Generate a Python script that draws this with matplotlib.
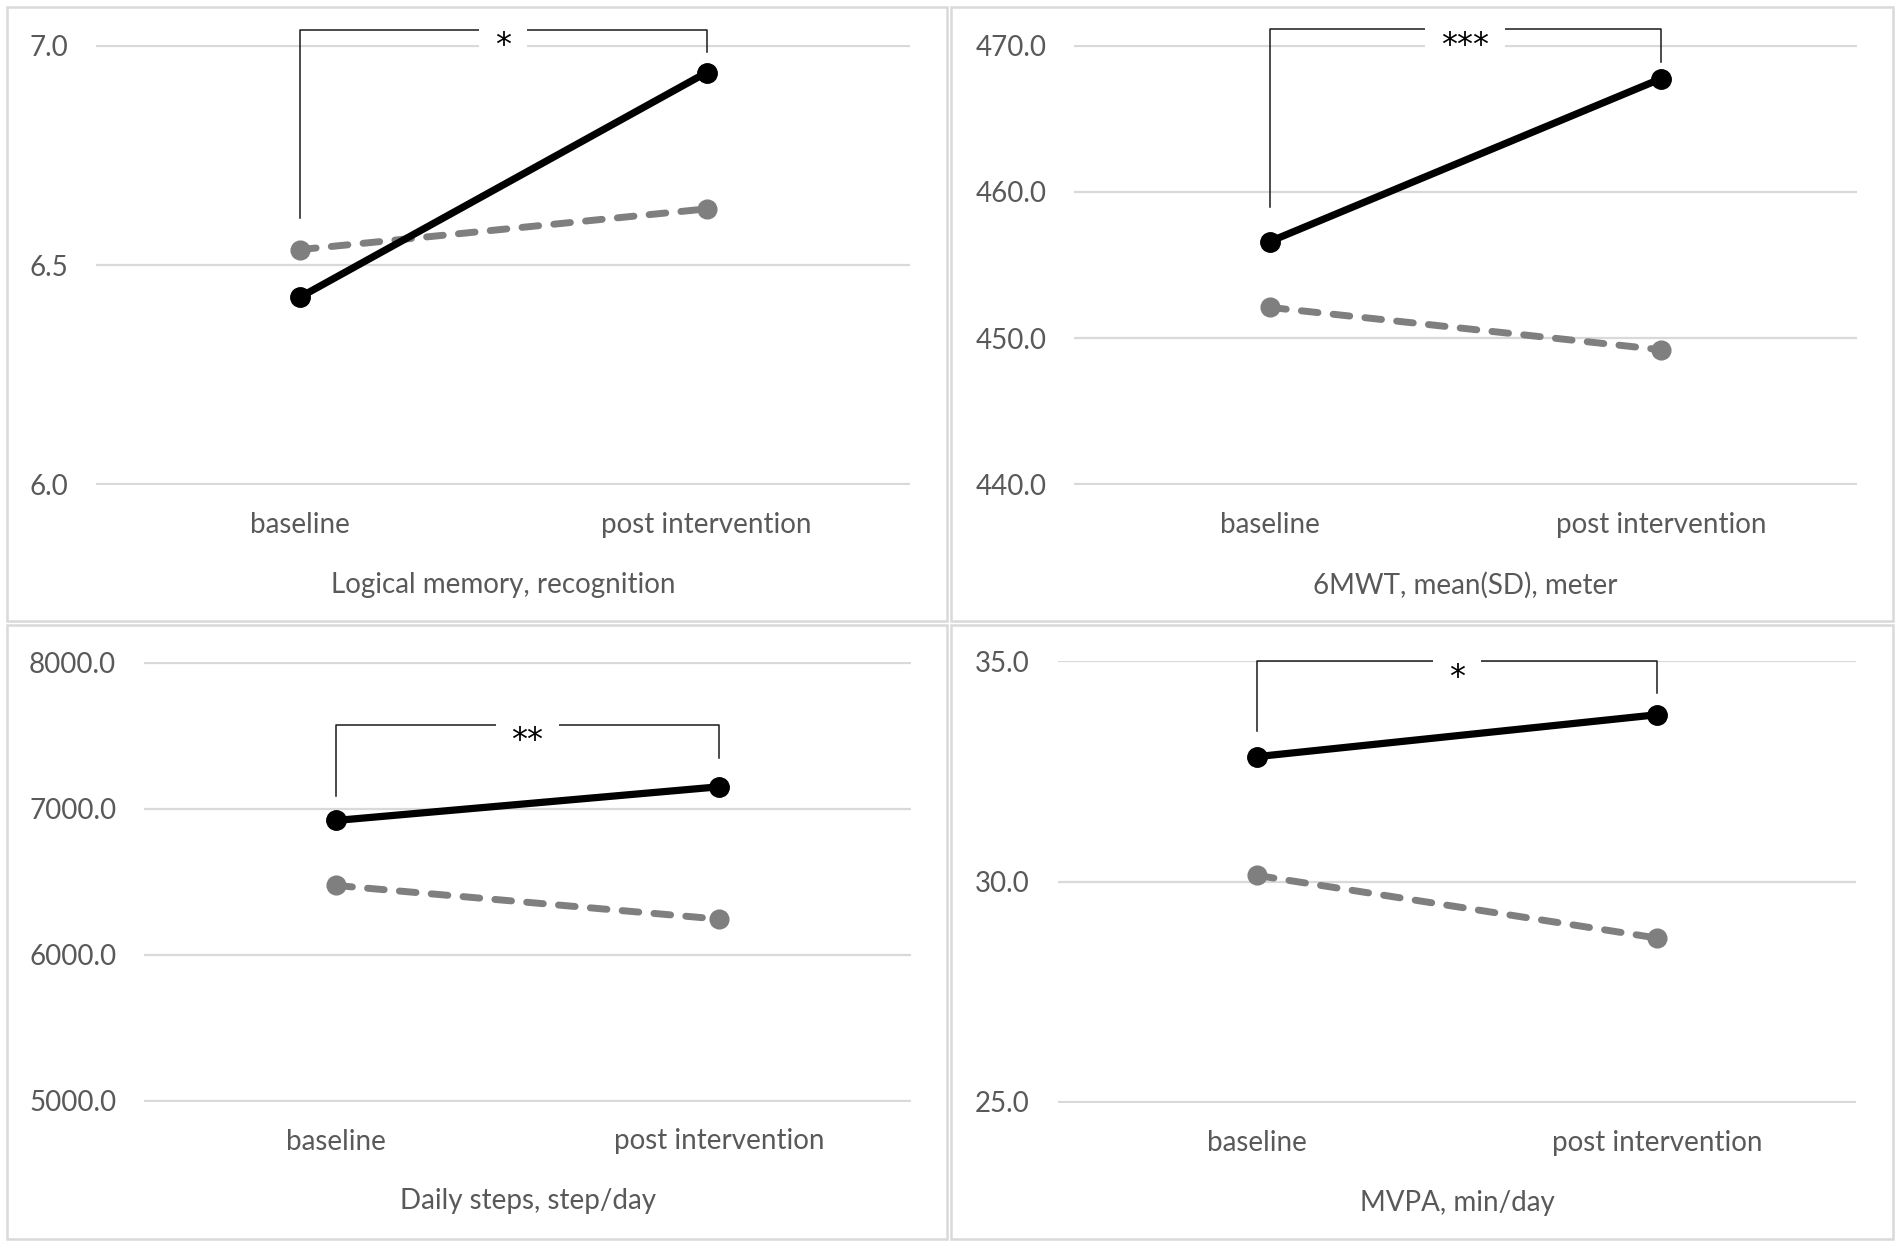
import matplotlib
matplotlib.use("Agg")
import matplotlib.pyplot as plt
from matplotlib.patches import Rectangle

plt.rcParams['font.family'] = ['Lato', 'DejaVu Sans']

# ---------------- data ----------------
categories = ["baseline", "post intervention"]

titles = ["Logical memory, recognition",
          "6MWT, mean(SD), meter",
          "Daily steps, step/day",
          "MVPA, min/day"]

intervention_logical_memory = [6.426, 6.939]
control_logical_memory = [6.535, 6.628]

intervention_6mwt = [456.6, 467.75]
control_6mwt = [452.1, 449.2]

intervention_steps = [6919.0, 7150.0]
control_steps = [6474.0, 6243.0]

intervention_mvpa = [32.84, 33.79]
control_mvpa = [30.14, 28.72]

yticks_logical_memory = [6.0, 6.5, 7.0]
yticks_6mwt = [440.0, 450.0, 460.0, 470.0]
yticks_steps = [5000.0, 6000.0, 7000.0, 8000.0]
yticks_mvpa = [25.0, 30.0, 35.0]

sig_labels = ["*", "***", "**", "*"]
bracket_top = [7.036, 471.13, 7574.0, 35.0]
bracket_left_end = [6.607, 459.0, 7090.0, 33.42]
bracket_right_end = [6.986, 468.9, 7348.0, 34.28]

intervention = [intervention_logical_memory, intervention_6mwt,
                intervention_steps, intervention_mvpa]
control = [control_logical_memory, control_6mwt, control_steps, control_mvpa]
yticks = [yticks_logical_memory, yticks_6mwt, yticks_steps, yticks_mvpa]

# ---------------- layout (pixels) ----------------
W, H = 1902, 1248
DPI = 100
axes_px = [(96, 45, 910, 485),
           (1074, 45, 1856.5, 485),
           (144, 661.8, 911, 1101.5),
           (1057.7, 660.6, 1856.5, 1102.7)]
panel_px = [(7, 7, 947, 621),
            (951, 7, 1893, 621),
            (7, 625, 947, 1239),
            (951, 625, 1893, 1239)]

TEXT_GRAY = '#595959'
GRID = '#d9d9d9'
LINE_GRAY = '#7f7f7f'

fig = plt.figure(figsize=(W / DPI, H / DPI), dpi=DPI)
fig.patch.set_facecolor('white')

for (x0, y0, x1, y1) in panel_px:
    fig.add_artist(Rectangle((x0 / W, 1 - y1 / H), (x1 - x0) / W, (y1 - y0) / H,
                             transform=fig.transFigure, fill=False,
                             ec=GRID, lw=1.8, zorder=0))

for i in range(4):
    x0, y0, x1, y1 = axes_px[i]
    ax = fig.add_axes([x0 / W, 1 - y1 / H, (x1 - x0) / W, (y1 - y0) / H])
    ax.patch.set_alpha(0)
    xs = list(range(len(categories)))

    # control (dashed gray)
    ax.plot(xs, control[i], color=LINE_GRAY, lw=5.0, dashes=(2.4, 2.2),
            dash_capstyle='round', marker='o', ms=13.5, mfc=LINE_GRAY,
            mec=LINE_GRAY, zorder=3, clip_on=False)
    # intervention (solid black)
    ax.plot(xs, intervention[i], color='black', lw=5.2, solid_capstyle='round',
            marker='o', ms=14, mfc='black', mec='black', zorder=4, clip_on=False)

    # significance bracket
    ax.plot([xs[0], xs[0], xs[1], xs[1]],
            [bracket_left_end[i], bracket_top[i], bracket_top[i], bracket_right_end[i]],
            color='#1a1a1a', lw=1.1, zorder=5, clip_on=False)
    ax.annotate(sig_labels[i], xy=((xs[0] + xs[1]) / 2, bracket_top[i]),
                xytext=(0, -17.5), textcoords='offset points',
                ha='center', va='baseline', fontsize=23, color='black',
                family=['DejaVu Sans'],
                bbox=dict(boxstyle='square,pad=0.5', fc='white', ec='none'),
                zorder=6, annotation_clip=False)

    yt = yticks[i]
    rng = yt[-1] - yt[0]
    ax.set_ylim(yt[0] - rng * 0.002, yt[-1] + rng * 0.002)
    ax.set_yticks(yt)
    ax.set_yticklabels([f"{v:.1f}" for v in yt])
    ax.set_xlim(-0.5, len(categories) - 0.5)
    ax.set_xticks(xs)
    ax.set_xticklabels(categories)

    ax.yaxis.grid(True, color=GRID, lw=1.6, zorder=0)
    ax.set_axisbelow(True)
    for s in ax.spines.values():
        s.set_visible(False)

    ax.tick_params(axis='y', length=0, pad=20, labelsize=20, labelcolor=TEXT_GRAY)
    ax.tick_params(axis='x', length=0, pad=28.8, labelsize=20, labelcolor=TEXT_GRAY)
    for lab in ax.get_xticklabels():
        lab.set_va('center')

    ax.set_xlabel(titles[i], fontsize=20, color=TEXT_GRAY)
    ax.xaxis.label.set_va('center')
    ax.xaxis.set_label_coords(0.5, -100.0 / (y1 - y0))

fig.savefig('out.png', dpi=DPI, facecolor='white')
